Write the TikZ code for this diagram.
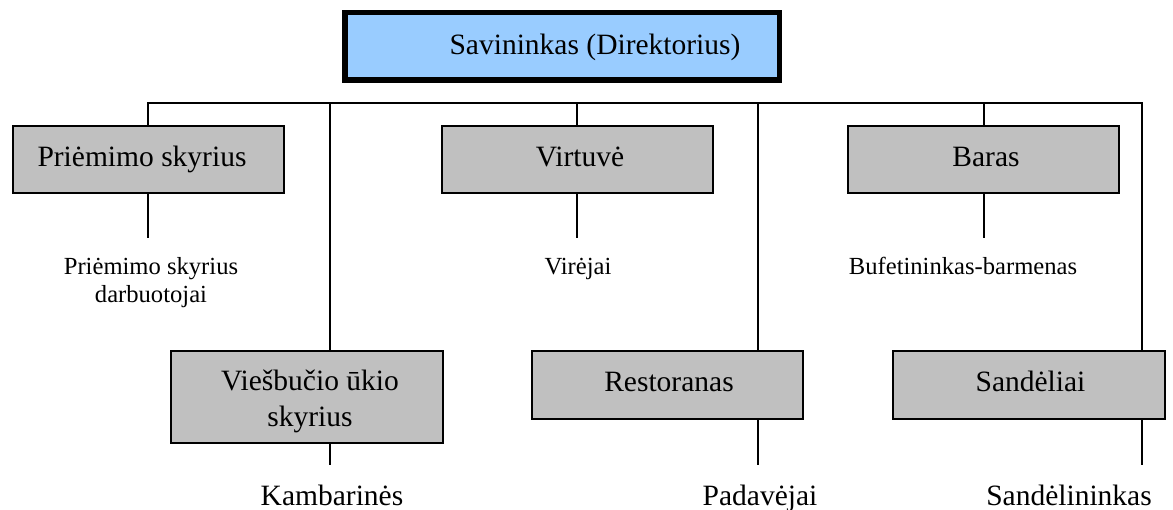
\documentclass[tikz,border=0pt]{standalone}
\usepackage{fontspec}
\setmainfont{Liberation Serif}
\definecolor{ownerblue}{HTML}{99CCFF}
\definecolor{deptgray}{HTML}{C0C0C0}
\tikzset{
  deptbox/.style={draw=black, line width=1.8pt, fill=deptgray, inner sep=0pt, minimum width=271pt},
  ownerbox/.style={draw=black, line width=5.5pt, fill=ownerblue, inner sep=0pt},
  bigtxt/.style={font=\fontsize{29.5}{35}\selectfont, inner sep=0pt, anchor=base, align=center},
  smalltxt/.style={font=\fontsize{24.6}{28}\selectfont, inner sep=0pt, anchor=base, align=center},
  link/.style={draw=black, line width=1.6pt},
}
\begin{document}
\begin{tikzpicture}[x=1pt, y=-1pt]
\useasboundingbox (0,0) rectangle (1173,510);

% owner
\node[ownerbox, minimum width=434.5pt, minimum height=67.5pt] (own) at (562,46.5) {};
\node[bigtxt] (ownT) at (595,55) {Savininkas (Direktorius)};

% first row of departments
\node[deptbox, minimum height=67pt] (pr) at (148.5,159.5) {};
\node[bigtxt] (prT) at (142,167) {Priėmimo skyrius};
\node[deptbox, minimum height=67pt] (vi) at (577.5,159.5) {};
\node[bigtxt] (viT) at (580,167) {Virtuvė};
\node[deptbox, minimum height=67pt] (ba) at (983.5,159.5) {};
\node[bigtxt] (baT) at (986,167) {Baras};

% second row of departments
\node[deptbox, minimum width=272pt, minimum height=92pt] (ve) at (307,397) {};
\node[bigtxt] (veT1) at (310,391) {Viešbučio ūkio};
\node[bigtxt] (veT2) at (310,427) {skyrius};
\node[deptbox, minimum height=68pt] (re) at (667.5,385) {};
\node[bigtxt] (reT) at (669,392) {Restoranas};
\node[deptbox, minimum width=272pt, minimum height=68pt] (sa) at (1029,385) {};
\node[bigtxt] (saT) at (1030.5,392) {Sandėliai};

% staff (a two-line node sits on the baseline of its last line)
\node[smalltxt] (prS) at (151,303) {Priėmimo skyrius\\darbuotojai};
\node[smalltxt] (viS) at (578,275) {Virėjai};
\node[smalltxt] (baS) at (963,275) {Bufetininkas-barmenas};
\node[bigtxt] (veS) at (332,505) {Kambarinės};
\node[bigtxt] (reS) at (760,505) {Padavėjai};
\node[bigtxt] (saS) at (1069,505) {Sandėlininkas};

% bus and drop points
\coordinate (busL) at (148,103);
\coordinate (busR) at (1142,103);
\coordinate (jVe) at (330,103);
\coordinate (jVi) at (577,103);
\coordinate (jRe) at (758,103);
\coordinate (jBa) at (984,103);

% stem ends above staff labels
\coordinate (prE) at (148,238);
\coordinate (viE) at (577,238);
\coordinate (baE) at (984,238);
\coordinate (veE) at (330,465);
\coordinate (reE) at (758,465);
\coordinate (saE) at (1142,465);

\draw[link] (busL |- pr.north) -- (busL) -- (busR) -- (busR |- sa.north);
\draw[link] (jVe) -- (jVe |- ve.north);
\draw[link] (jVi) -- (jVi |- vi.north);
\draw[link] (jRe) -- (jRe |- re.north);
\draw[link] (jBa) -- (jBa |- ba.north);

\draw[link] (prE |- pr.south) -- (prE);
\draw[link] (viE |- vi.south) -- (viE);
\draw[link] (baE |- ba.south) -- (baE);
\draw[link] (veE |- ve.south) -- (veE);
\draw[link] (reE |- re.south) -- (reE);
\draw[link] (saE |- sa.south) -- (saE);
\end{tikzpicture}
\end{document}
